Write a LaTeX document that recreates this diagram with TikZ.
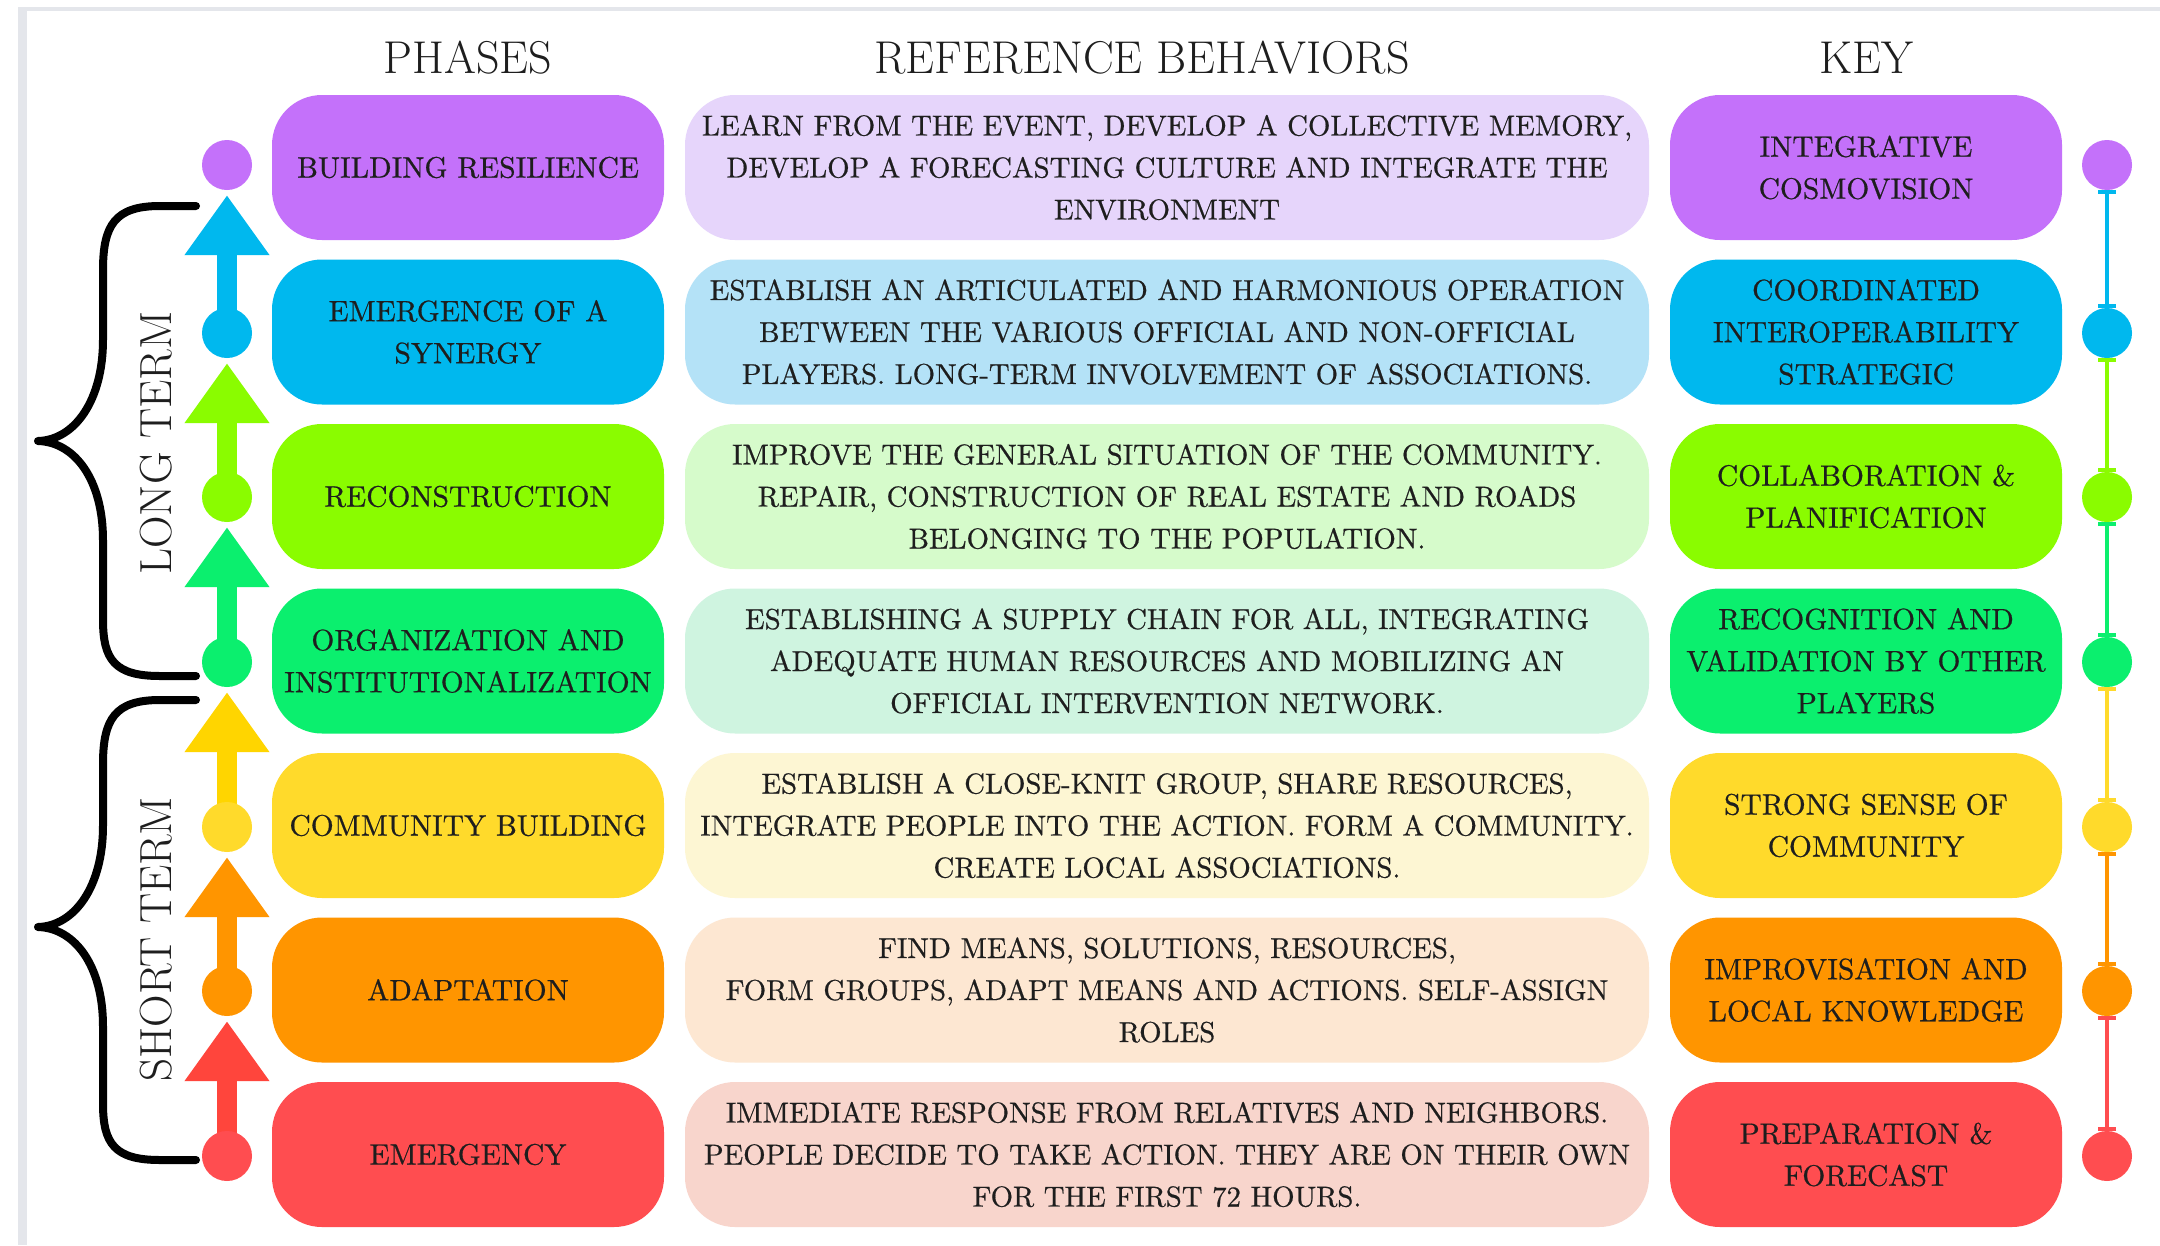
\documentclass[tikz,border=0pt]{standalone}
\usepackage{fontspec}
\usetikzlibrary{arrows.meta,backgrounds}
\newfontfamily\medfont{lmroman10-regular.otf}[FakeBold=0.6]
\definecolor{cA}{HTML}{C471FA}\definecolor{lA}{HTML}{E6D5FB}
\definecolor{cB}{HTML}{00B8EE}\definecolor{lB}{HTML}{B4E2F7}
\definecolor{cC}{HTML}{8AFC00}\definecolor{lC}{HTML}{D6FBCB}
\definecolor{cD}{HTML}{0BEF6E}\definecolor{lD}{HTML}{CFF4E0}
\definecolor{cE}{HTML}{FFDA2B}\definecolor{lE}{HTML}{FDF6D3}
\definecolor{cF}{HTML}{FF9500}\definecolor{lF}{HTML}{FDE7D2}
\definecolor{cG}{HTML}{FF4D50}\definecolor{lG}{HTML}{F8D5CC}
\definecolor{aE}{HTML}{FFD500}\definecolor{aG}{HTML}{FF453C}
\definecolor{txt}{HTML}{1E1E1E}
\definecolor{framegray}{HTML}{E4E6EB}
\newcommand\bxfont{\medfont\fontsize{29.5}{42}\selectfont}
\newcommand\bhfont{\medfont\fontsize{28.8}{42}\selectfont}
\newcommand\hdfont{\fontsize{46}{52}\selectfont}
\newcommand\tmfont{\fontsize{45}{52}\selectfont}
\tikzset{
  pill/.style={rounded corners=50pt, minimum height=145pt, inner sep=0pt,
               align=center, text=txt, font=\bxfont},
  phase/.style={pill, minimum width=392pt},
  behav/.style={pill, minimum width=964pt, font=\bhfont},
  keyb/.style={pill, minimum width=392pt},
  dot/.style={circle, minimum size=50pt, inner sep=0pt},
  rise/.style={line width=20pt, -{Triangle[length=60pt,width=81pt]}, shorten >=5pt},
  link/.style={line width=3.5pt, {Bar[width=18pt]}-{Bar[width=18pt]}},
  bracestroke/.style={line width=8pt, line cap=round, line join=round, draw=black},
  head/.style={font=\hdfont, text=txt, anchor=base},
  termlabel/.style={font=\tmfont, text=txt, rotate=90}
}
\begin{document}
\begin{tikzpicture}[x=1pt, y=-1pt]
\useasboundingbox (0,0) rectangle (2160,1245);
\begin{scope}[on background layer]
  \fill[white] (0,0) rectangle (2160,1245);
  \fill[framegray] (18,7) rectangle (2160,1245);
  \fill[white] (27,11) rectangle (2160,1245);
\end{scope}

% headers
\node[head] (hph) at (468,73) {PHASES};
\node[head] (hbh) at (1142,73) {REFERENCE BEHAVIORS};
\node[head] (hky) at (1866,73) {KEY};

% row 1
\node[phase, fill=cA] (ph1) at (468,167.5) {BUILDING RESILIENCE};
\node[behav, fill=lA] (bh1) at (1167,167.5) {LEARN FROM THE EVENT, DEVELOP A COLLECTIVE MEMORY,\\DEVELOP A FORECASTING CULTURE AND INTEGRATE THE\\ENVIRONMENT};
\node[keyb, fill=cA] (ky1) at (1866,167.5) {INTEGRATIVE\\COSMOVISION};
% row 2
\node[phase, fill=cB] (ph2) at (468,332) {EMERGENCE OF A\\SYNERGY};
\node[behav, fill=lB] (bh2) at (1167,332) {ESTABLISH AN ARTICULATED AND HARMONIOUS OPERATION\\BETWEEN THE VARIOUS OFFICIAL AND NON-OFFICIAL\\PLAYERS. LONG-TERM INVOLVEMENT OF ASSOCIATIONS.};
\node[keyb, fill=cB] (ky2) at (1866,332) {COORDINATED\\INTEROPERABILITY\\STRATEGIC};
% row 3
\node[phase, fill=cC] (ph3) at (468,496.5) {RECONSTRUCTION};
\node[behav, fill=lC] (bh3) at (1167,496.5) {IMPROVE THE GENERAL SITUATION OF THE COMMUNITY.\\REPAIR, CONSTRUCTION OF REAL ESTATE AND ROADS\\BELONGING TO THE POPULATION.};
\node[keyb, fill=cC] (ky3) at (1866,496.5) {COLLABORATION \&\\PLANIFICATION};
% row 4
\node[phase, fill=cD] (ph4) at (468,661) {ORGANIZATION AND\\INSTITUTIONALIZATION};
\node[behav, fill=lD] (bh4) at (1167,661) {ESTABLISHING A SUPPLY CHAIN FOR ALL, INTEGRATING\\ADEQUATE HUMAN RESOURCES AND MOBILIZING AN\\OFFICIAL INTERVENTION NETWORK.};
\node[keyb, fill=cD] (ky4) at (1866,661) {RECOGNITION AND\\VALIDATION BY OTHER\\PLAYERS};
% row 5
\node[phase, fill=cE] (ph5) at (468,825.5) {COMMUNITY BUILDING};
\node[behav, fill=lE] (bh5) at (1167,825.5) {ESTABLISH A CLOSE-KNIT GROUP, SHARE RESOURCES,\\INTEGRATE PEOPLE INTO THE ACTION. FORM A COMMUNITY.\\CREATE LOCAL ASSOCIATIONS.};
\node[keyb, fill=cE] (ky5) at (1866,825.5) {STRONG SENSE OF\\COMMUNITY};
% row 6
\node[phase, fill=cF] (ph6) at (468,990) {ADAPTATION};
\node[behav, fill=lF] (bh6) at (1167,990) {FIND MEANS, SOLUTIONS, RESOURCES,\\FORM GROUPS, ADAPT MEANS AND ACTIONS. SELF-ASSIGN\\ROLES};
\node[keyb, fill=cF] (ky6) at (1866,990) {IMPROVISATION AND\\LOCAL KNOWLEDGE};
% row 7
\node[phase, fill=cG] (ph7) at (468,1154.5) {EMERGENCY};
\node[behav, fill=lG] (bh7) at (1167,1154.5) {IMMEDIATE RESPONSE FROM RELATIVES AND NEIGHBORS.\\PEOPLE DECIDE TO TAKE ACTION. THEY ARE ON THEIR OWN\\FOR THE FIRST 72 HOURS.};
\node[keyb, fill=cG] (ky7) at (1866,1154.5) {PREPARATION \&\\FORECAST};

% left dots
\node[dot, fill=cA] (lc1) at (227,165) {};
\node[dot, fill=cB] (lc2) at (227,333) {};
\node[dot, fill=cC] (lc3) at (227,497) {};
\node[dot, fill=cD] (lc4) at (227,662) {};
\node[dot, fill=cE] (lc5) at (227,827) {};
\node[dot, fill=cF] (lc6) at (227,991) {};
\node[dot, fill=cG] (lc7) at (227,1156) {};
% right dots
\node[dot, fill=cA] (rc1) at (2107,165) {};
\node[dot, fill=cB] (rc2) at (2107,333) {};
\node[dot, fill=cC] (rc3) at (2107,497) {};
\node[dot, fill=cD] (rc4) at (2107,662) {};
\node[dot, fill=cE] (rc5) at (2107,827) {};
\node[dot, fill=cF] (rc6) at (2107,991) {};
\node[dot, fill=cG] (rc7) at (2107,1156) {};

% upward arrows (behind the dots)
\begin{scope}[on background layer]
  \draw[rise, draw=cB] (lc2.center) -- (lc1.south);
  \draw[rise, draw=cC] (lc3.center) -- (lc2.south);
  \draw[rise, draw=cD] (lc4.center) -- (lc3.south);
  \draw[rise, draw=aE] (lc5.center) -- (lc4.south);
  \draw[rise, draw=cF] (lc6.center) -- (lc5.south);
  \draw[rise, draw=aG] (lc7.center) -- (lc6.south);
\end{scope}

% key links
\draw[link, draw=cB] (rc1.south) -- (rc2.north);
\draw[link, draw=cC] (rc2.south) -- (rc3.north);
\draw[link, draw=cD] (rc3.south) -- (rc4.north);
\draw[link, draw=cE] (rc4.south) -- (rc5.north);
\draw[link, draw=cF] (rc5.south) -- (rc6.north);
\draw[link, draw=cG] (rc6.south) -- (rc7.north);

% braces
\draw[bracestroke] (196,206) -- (160,206) .. controls (115,206) and (103,225) .. (103,270)
  -- (103,340) .. controls (103,400) and (75,440) .. (38,441)
  .. controls (75,442) and (103,480) .. (103,540)
  -- (103,620) .. controls (103,660) and (115,676) .. (160,676) -- (196,676);
\draw[bracestroke] (196,700) -- (160,700) .. controls (115,700) and (103,719) .. (103,764)
  -- (103,826) .. controls (103,886) and (75,926) .. (38,927)
  .. controls (75,928) and (103,966) .. (103,1026)
  -- (103,1104) .. controls (103,1144) and (115,1160) .. (160,1160) -- (196,1160);

% term labels
\node[termlabel] (lt) at (156,443) {LONG TERM};
\node[termlabel] (st) at (156,939) {SHORT TERM};
\end{tikzpicture}
\end{document}
